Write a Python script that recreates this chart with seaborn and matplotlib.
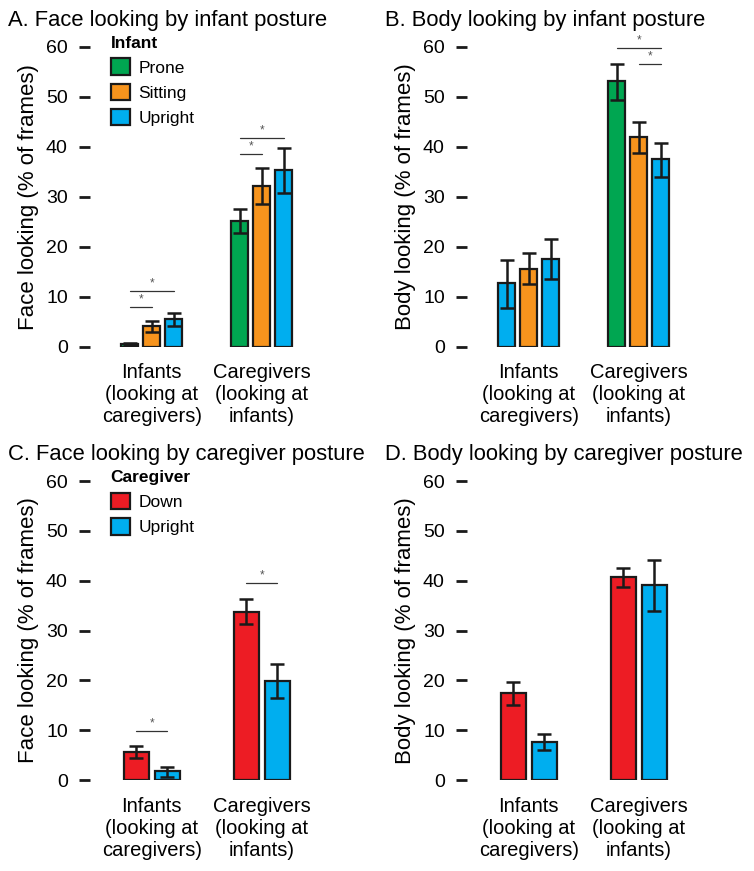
import numpy as np
import pandas as pd
import seaborn as sns
import matplotlib.pyplot as plt
from matplotlib.patches import Patch

# ---- data ----
groups = ["Infants\n(looking at\ncaregivers)", "Caregivers\n(looking at\ninfants)"]

infant_postures = ["Prone", "Sitting", "Upright"]
cg_postures = ["Down", "Upright"]

# A. face looking by infant posture  (rows = posture, cols = group)
a_mean = [[0.5, 25.1], [4.1, 32.1], [5.5, 35.3]]
a_lo = [[0.3, 22.8], [3.0, 28.5], [4.1, 30.8]]
a_hi = [[0.7, 27.5], [5.2, 35.8], [6.7, 39.8]]

# B. body looking by infant posture
b_mean = [[12.8, 53.1], [15.6, 42.0], [17.6, 37.5]]
b_lo = [[7.8, 49.3], [12.5, 38.7], [13.6, 34.0]]
b_hi = [[17.3, 56.5], [18.7, 44.9], [21.5, 40.8]]

# C. face looking by caregiver posture
c_mean = [[5.7, 33.8], [1.8, 19.9]]
c_lo = [[4.4, 31.3], [0.6, 16.4]]
c_hi = [[6.8, 36.3], [2.7, 23.2]]

# D. body looking by caregiver posture
d_mean = [[17.4, 40.7], [7.6, 39.2]]
d_lo = [[15.1, 38.7], [6.0, 34.0]]
d_hi = [[19.6, 42.6], [9.2, 44.2]]

# significance brackets: (group, hue_from, hue_to, y)
a_sig = [(0, 0, 2, 11.1), (0, 0, 1, 7.9), (1, 0, 2, 41.8), (1, 0, 1, 38.5)]
b_sig = [(1, 0, 2, 59.7), (1, 1, 2, 56.5)]
c_sig = [(0, 0, 1, 9.9), (1, 0, 1, 39.5)]
d_sig = []

infant_colors = ["#00a651", "#f7941d", "#00aeef"]
cg_colors = ["#ed1c24", "#00aeef"]

sns.set_style("white")
plt.rcParams['font.family'] = ['Liberation Sans', 'DejaVu Sans']
plt.rcParams['text.color'] = 'black'
plt.rcParams['axes.labelcolor'] = 'black'
plt.rcParams['xtick.color'] = 'black'
plt.rcParams['ytick.color'] = 'black'

fig = plt.figure(figsize=(7.54, 8.71), dpi=100)
W, H = 754, 871


def make_ax(x0, y_top, y_bot):
    # pixel box -> figure fraction
    return fig.add_axes([x0 / W, 1 - y_bot / H, 230 / W, (y_bot - y_top) / H])


def panel(ax, mean, lo, hi, postures, colors, sig, title, ylabel, width, gap,
          legend_title=None, recolor=None):
    rows = []
    for i, p in enumerate(postures):
        for j, g in enumerate(groups):
            rows.append({"group": g, "posture": p, "value": mean[i][j]})
    df = pd.DataFrame(rows)
    sns.barplot(data=df, x="group", y="value", hue="posture", order=groups,
                hue_order=postures, palette=colors, width=width, gap=gap,
                edgecolor="#1a1a1a", linewidth=1.6, saturation=1,
                legend=False, errorbar=None, ax=ax)

    bar_conts = list(ax.containers)
    centers = {}
    for i, cont in enumerate(bar_conts):
        for j, bar in enumerate(cont):
            cx = bar.get_x() + bar.get_width() / 2
            centers[(i, j)] = cx
            m = mean[i][j]
            ax.errorbar(cx, m, yerr=[[m - lo[i][j]], [hi[i][j] - m]],
                        fmt="none", ecolor="#1a1a1a", elinewidth=1.8,
                        capsize=5, capthick=1.8, zorder=5)
    if recolor:
        for (i, j), c in recolor.items():
            bar_conts[i][j].set_facecolor(c)

    for g, h0, h1, y in sig:
        x0, x1 = centers[(h0, g)], centers[(h1, g)]
        ax.plot([x0, x1], [y, y], color="#333333", lw=0.9, clip_on=False)
        ax.text((x0 + x1) / 2, y + 0.3, "*", ha="center", va="bottom",
                fontsize=8.5, color="#555555", clip_on=False)

    ax.set_ylim(0, 60)
    ax.set_xlim(-0.56, 1.53)
    ax.set_yticks([0, 10, 20, 30, 40, 50, 60])
    ax.tick_params(axis="y", length=8, width=2, direction="out", pad=8,
                   labelsize=14, left=True, color="#1a1a1a")
    ax.tick_params(axis="x", length=0, pad=12, labelsize=14.5)
    for lab in ax.get_xticklabels():
        lab.set_linespacing(1.2)
    for s in ax.spines.values():
        s.set_visible(False)
    ax.set_xlabel("")
    ax.set_ylabel(ylabel, fontsize=16, labelpad=5)
    ax.set_title(title, fontsize=15.8, loc="left", x=-0.355, pad=15)

    if legend_title:
        handles = [Patch(facecolor=c, edgecolor="#1a1a1a", linewidth=1.6, label=p)
                   for p, c in zip(postures, colors)]
        leg = ax.legend(handles=handles, title=legend_title, loc="upper left",
                        bbox_to_anchor=(0.06, 1.06), frameon=False,
                        fontsize=12.5, title_fontsize=12.5, handlelength=1.1,
                        handleheight=1.1, handletextpad=0.5, labelspacing=0.45,
                        alignment="left", borderaxespad=0)
        leg.get_title().set_fontweight("bold")


axA = make_ax(90, 46.7, 346.7)
axB = make_ax(467, 46.7, 346.7)
axC = make_ax(90, 481, 780)
axD = make_ax(467, 481, 780)

panel(axA, a_mean, a_lo, a_hi, infant_postures, infant_colors, a_sig,
      "A. Face looking by infant posture", "Face looking (% of frames)",
      0.6, 0.23, legend_title="Infant")
panel(axB, b_mean, b_lo, b_hi, infant_postures, infant_colors, b_sig,
      "B. Body looking by infant posture", "Body looking (% of frames)",
      0.6, 0.23, recolor={(0, 0): "#00aeef"})
panel(axC, c_mean, c_lo, c_hi, cg_postures, cg_colors, c_sig,
      "C. Face looking by caregiver posture", "Face looking (% of frames)",
      0.56, 0.19, legend_title="Caregiver")
panel(axD, d_mean, d_lo, d_hi, cg_postures, cg_colors, d_sig,
      "D. Body looking by caregiver posture", "Body looking (% of frames)",
      0.56, 0.19)

fig.savefig("out.png", dpi=100)
